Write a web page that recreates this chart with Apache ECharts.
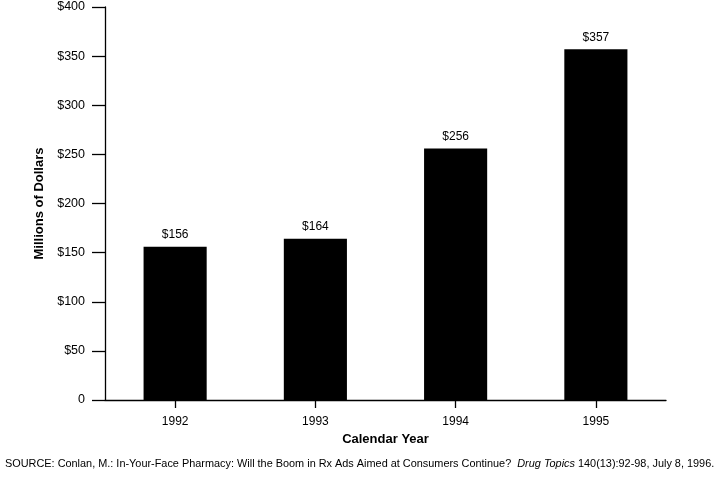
<!DOCTYPE html>
<html>
<head>
<meta charset="utf-8">
<script src="https://cdn.jsdelivr.net/npm/echarts@6/dist/echarts.min.js"></script>
<style>
html,body{margin:0;padding:0;background:#fff;}
#chart{width:716px;height:477px;}
</style>
</head>
<body>
<div id="chart"></div>
<script>
const categories = ['1992', '1993', '1994', '1995'];
const spending = [156, 164, 256, 357];
const yTicks = [0, 50, 100, 150, 200, 250, 300, 350, 400];
const xTitle = 'Calendar Year';
const yTitle = 'Millions of Dollars';
const sourceText = 'SOURCE: Conlan, M.: In-Your-Face Pharmacy: Will the Boom in Rx Ads Aimed at Consumers Continue?  ';
const journalText = 'Drug Topics';
const citationText = ' 140(13):92-98, July 8, 1996.';

const FONT = '"Liberation Sans", Arial, Helvetica, sans-serif';
const chart = echarts.init(document.getElementById('chart'), null, {renderer: 'canvas'});
chart.setOption({
  animation: false,
  backgroundColor: '#fff',
  textStyle: {fontFamily: FONT, color: '#000'},
  grid: {left: 105, right: 50, top: 7, bottom: 77, containLabel: false},
  xAxis: {
    type: 'category',
    data: categories,
    name: xTitle,
    nameLocation: 'middle',
    nameGap: 31,
    nameTextStyle: {fontFamily: FONT, fontSize: 13, fontWeight: 'bold', color: '#000'},
    axisLine: {lineStyle: {color: '#000', width: 1.3}},
    axisTick: {show: true, alignWithLabel: true, length: 8, lineStyle: {color: '#000', width: 1.3}},
    axisLabel: {margin: 16, fontFamily: FONT, fontSize: 12, color: '#000'},
    splitLine: {show: false}
  },
  yAxis: {
    type: 'value',
    min: yTicks[0],
    max: yTicks[yTicks.length - 1],
    interval: yTicks[1] - yTicks[0],
    name: yTitle,
    nameLocation: 'middle',
    nameGap: 58,
    nameRotate: 90,
    nameTextStyle: {fontFamily: FONT, fontSize: 13, fontWeight: 'bold', color: '#000'},
    axisLine: {show: true, lineStyle: {color: '#000', width: 1.3}},
    axisTick: {show: true, length: 13, lineStyle: {color: '#000', width: 1.3}},
    axisLabel: {
      margin: 20, fontFamily: FONT, fontSize: 12.5, color: '#000',
      formatter: v => (v === 0 ? '0' : '$' + v)
    },
    splitLine: {show: false}
  },
  series: [{
    type: 'bar',
    data: spending,
    barWidth: '45%',
    itemStyle: {color: '#000'},
    label: {
      show: true, position: 'top', distance: 6,
      fontFamily: FONT, fontSize: 12, color: '#000',
      formatter: p => '$' + p.value
    }
  }],
  graphic: [{
    type: 'text',
    left: 5,
    top: 458,
    style: {
      text: '{a|' + sourceText + '}{b|' + journalText + '}{a|' + citationText + '}',
      rich: {
        a: {fontFamily: FONT, fontSize: 10.9, fill: '#000'},
        b: {fontFamily: FONT, fontSize: 10.9, fontStyle: 'italic', fill: '#000'}
      }
    }
  }]
});
</script>
</body>
</html>
